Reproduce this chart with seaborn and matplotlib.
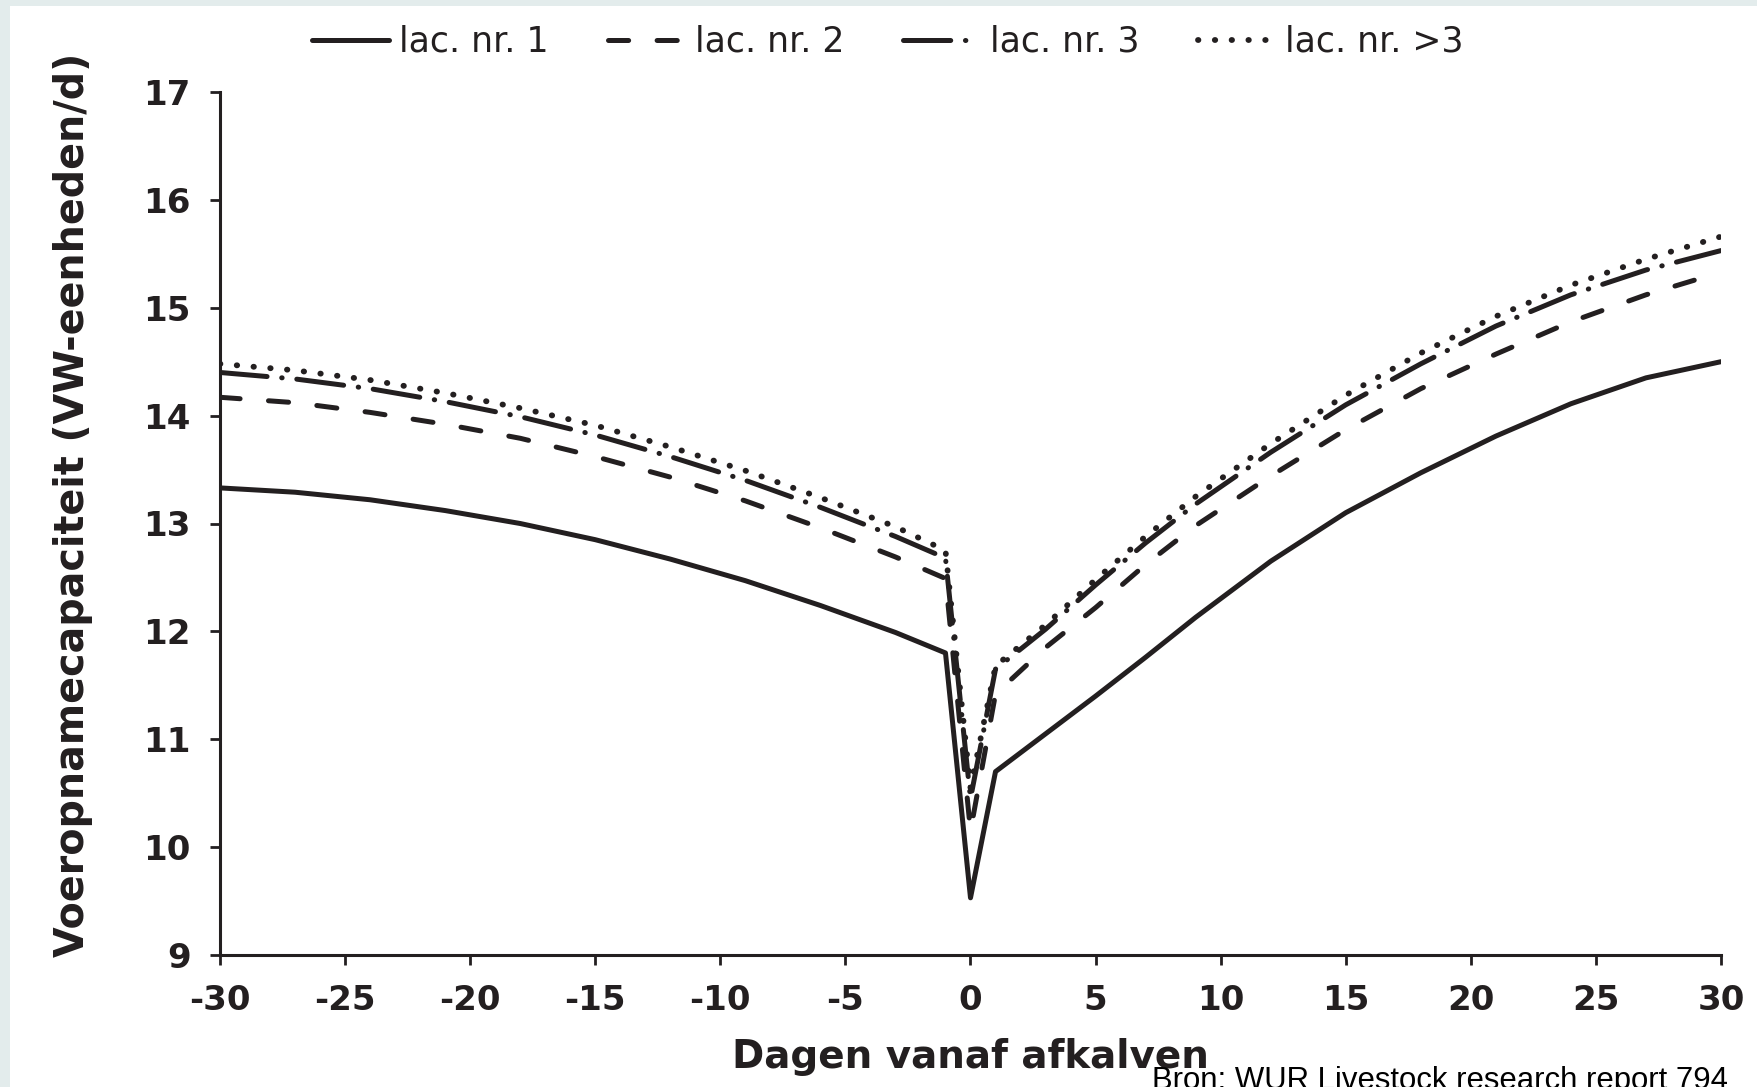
import numpy as np
import pandas as pd
import seaborn as sns
import matplotlib.pyplot as plt
from matplotlib.patches import Rectangle

# days relative to calving
days = [-30, -27, -24, -21, -18, -15, -12, -9, -6, -3, -1, 0, 1, 3, 5, 7, 9, 12, 15, 18, 21, 24, 27, 30]

lac1 = [13.33, 13.29, 13.22, 13.12, 13.00, 12.85, 12.67, 12.47, 12.24, 11.99, 11.80, 9.53,
        10.70, 11.05, 11.40, 11.76, 12.13, 12.65, 13.10, 13.47, 13.81, 14.11, 14.35, 14.50]
lac2 = [14.17, 14.12, 14.03, 13.92, 13.79, 13.62, 13.43, 13.21, 12.96, 12.69, 12.49, 10.15,
        11.42, 11.85, 12.22, 12.62, 12.98, 13.44, 13.87, 14.25, 14.57, 14.87, 15.12, 15.33]
lac3 = [14.40, 14.34, 14.25, 14.13, 13.99, 13.82, 13.62, 13.40, 13.15, 12.88, 12.68, 10.45,
        11.65, 12.02, 12.43, 12.82, 13.18, 13.66, 14.10, 14.48, 14.83, 15.12, 15.35, 15.53]
lac4 = [14.48, 14.42, 14.33, 14.21, 14.07, 13.91, 13.71, 13.49, 13.24, 12.97, 12.75, 10.55,
        11.68, 12.06, 12.48, 12.88, 13.25, 13.74, 14.19, 14.58, 14.92, 15.21, 15.45, 15.66]

labels = ["lac. nr. 1", "lac. nr. 2", "lac. nr. 3", "lac. nr. >3"]
x_ticks = list(range(-30, 31, 5))
y_ticks = list(range(9, 18))

sns.set_theme(style="white")
plt.rcParams["font.family"] = ["DejaVu Sans"]
plt.rcParams["lines.scale_dashes"] = False
plt.rcParams["axes.unicode_minus"] = False

ink = "#231f20"
widths = [3.6, 3.6, 3.6, 4.2]
styles = [
    "-",
    (0, (14.5, 20.5)),
    (0, (34.0, 10.6, 0.3, 10.6)),
    (0, (0.3, 11.8)),
]

fig = plt.figure(figsize=(17.58, 10.87), dpi=100, facecolor="#e3ecec")
fig.add_artist(Rectangle((10 / 1758, 0), 1, 1 - 6 / 1087, transform=fig.transFigure,
                         facecolor="white", edgecolor="none", zorder=0))
ax = fig.add_axes([220 / 1758, 132 / 1087, 1501 / 1758, 863 / 1087])
ax.set_facecolor("white")

for vals, lab, ls, lw in zip([lac1, lac2, lac3, lac4], labels, styles, widths):
    df = pd.DataFrame({"dag": days, "vop": vals})
    sns.lineplot(data=df, x="dag", y="vop", ax=ax, color=ink, linewidth=lw, linestyle=ls,
                 dash_capstyle="round", solid_capstyle="round", label=lab, errorbar=None,
                 legend=False)

ax.set_xlim(-30, 30)
ax.set_ylim(9, 17)
ax.set_xticks(x_ticks)
ax.set_yticks(y_ticks)
ax.tick_params(axis="both", which="major", bottom=True, left=True, direction="out", length=7,
               width=2.0, color=ink, labelsize=24.5, labelcolor=ink)
ax.tick_params(axis="x", pad=14)
ax.tick_params(axis="y", pad=14)
for t in ax.get_xticklabels() + ax.get_yticklabels():
    t.set_fontweight("bold")
for s in ["top", "right"]:
    ax.spines[s].set_visible(False)
for s in ["left", "bottom"]:
    ax.spines[s].set_color(ink)
    ax.spines[s].set_linewidth(2.2)

ax.set_xlabel("Dagen vanaf afkalven", fontsize=28, fontweight="bold", color=ink, labelpad=15)
ax.set_ylabel("Voeropnamecapaciteit (VW-eenheden/d)", fontsize=28.5, fontweight="bold",
              color=ink, labelpad=36, y=0.522)

handles = ax.get_lines()
fig.legend(handles, labels, loc="center", bbox_to_anchor=(888 / 1758, 1 - 42 / 1087), ncol=4,
           frameon=False, fontsize=25, handlelength=2.2, handletextpad=0.3, columnspacing=1.7,
           labelcolor=ink)

fig.text(1152 / 1758, -2 / 1087, "Bron: WUR Livestock research report 794", fontsize=22.4,
         family="Liberation Sans", ha="left", va="baseline", color="black")

fig.savefig("out.png", dpi=100, facecolor=fig.get_facecolor())
